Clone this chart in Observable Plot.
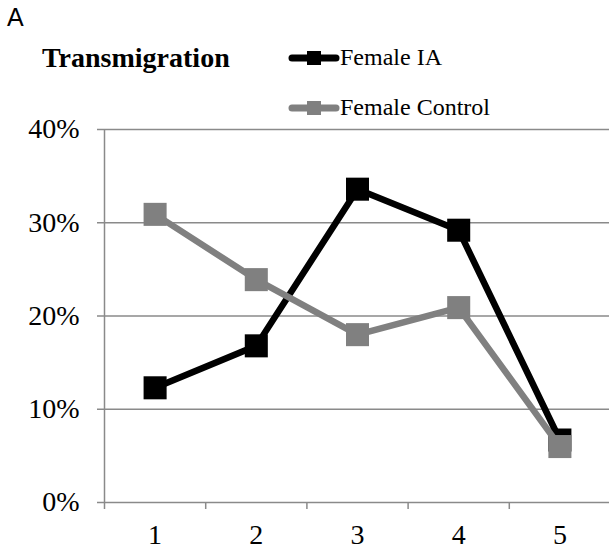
<!DOCTYPE html>
<html><head><meta charset="utf-8">
<script src="https://cdn.jsdelivr.net/npm/d3@7"></script>
<script src="https://cdn.jsdelivr.net/npm/@observablehq/plot@0.6"></script>
<style>
body{margin:0;background:#fff}
#wrap{position:relative;width:609px;height:550px}
.ov{position:absolute;white-space:nowrap;line-height:1}
</style>
</head><body><div id="wrap"></div>
<script>
const categories = [1, 2, 3, 4, 5];
const femaleIA = [0.123, 0.168, 0.336, 0.292, 0.067];
const femaleControl = [0.309, 0.239, 0.180, 0.209, 0.060];
const yTicks = [0, 0.1, 0.2, 0.3, 0.4];
const seriesNames = ["Female IA", "Female Control"];
const seriesColors = ["#000000", "#808080"];
const titleText = "Transmigration";
const panelLabel = "A";

const iaRows = categories.map((c, i) => ({cat: c, v: femaleIA[i], s: seriesNames[0]}));
const ctRows = categories.map((c, i) => ({cat: c, v: femaleControl[i], s: seriesNames[1]}));
const bounds = categories.map(c => c - 0.5).concat([categories[categories.length - 1] + 0.5]);
const grid = "#8a8a8a";

const chart = Plot.plot({
  width: 609, height: 550,
  marginLeft: 104, marginRight: -1, marginTop: 129, marginBottom: 48,
  style: {fontFamily: "'Liberation Serif', serif", fontSize: "28px", color: "#000", background: "#fff", overflow: "visible"},
  x: {type: "linear", domain: [bounds[0], bounds[bounds.length - 1]]},
  y: {domain: [0, 0.4]},
  color: {domain: seriesNames, range: seriesColors},
  marks: [
    Plot.ruleY(yTicks, {stroke: grid, strokeWidth: 1.5}),
    Plot.ruleX([bounds[0]], {y1: 0, y2: 0.4, stroke: grid, strokeWidth: 1.5}),
    Plot.axisY(yTicks, {tickSize: 7, tickPadding: 18, tickFormat: d3.format(".0%"), stroke: grid, strokeWidth: 1.5, label: null, fontSize: 28}),
    Plot.axisX(bounds, {tickSize: 7, tickFormat: () => "", stroke: grid, strokeWidth: 1.5, label: null}),
    Plot.axisX(categories, {tickSize: 0, tickPadding: 22, label: null, fontSize: 28}),
    Plot.line(iaRows, {x: "cat", y: "v", stroke: "s", strokeWidth: 6.5, strokeLinejoin: "miter"}),
    Plot.dot(iaRows, {x: "cat", y: "v", fill: "s", symbol: "square", r: 13}),
    Plot.line(ctRows, {x: "cat", y: "v", stroke: "s", strokeWidth: 6.5, strokeLinejoin: "miter"}),
    Plot.dot(ctRows, {x: "cat", y: "v", fill: "s", symbol: "square", r: 13})
  ]
});
const wrap = document.getElementById("wrap");
wrap.appendChild(chart);

function ov(text, css) {
  const d = document.createElement("div");
  d.className = "ov";
  d.textContent = text;
  Object.assign(d.style, css);
  wrap.appendChild(d);
  return d;
}
ov(panelLabel, {left: "7px", top: "5px", fontFamily: "'Liberation Sans', sans-serif", fontSize: "25px"});
ov(titleText, {left: "42px", top: "44px", fontFamily: "'Liberation Serif', serif", fontWeight: "bold", fontSize: "28px"});

seriesNames.forEach((name, i) => {
  const cy = 58 + i * 50;
  const sw = document.createElementNS("http://www.w3.org/2000/svg", "svg");
  sw.setAttribute("width", 52); sw.setAttribute("height", 20);
  Object.assign(sw.style, {position: "absolute", left: "288px", top: (cy - 10) + "px"});
  sw.innerHTML = `<line x1="4" x2="48" y1="10" y2="10" stroke="${seriesColors[i]}" stroke-width="7" stroke-linecap="round"/>` +
                 `<rect x="19" y="3" width="14" height="14" fill="${seriesColors[i]}"/>`;
  wrap.appendChild(sw);
  ov(name, {left: "340px", top: (cy - 13) + "px", fontFamily: "'Liberation Serif', serif", fontSize: "24px"});
});
</script>
</body></html>
